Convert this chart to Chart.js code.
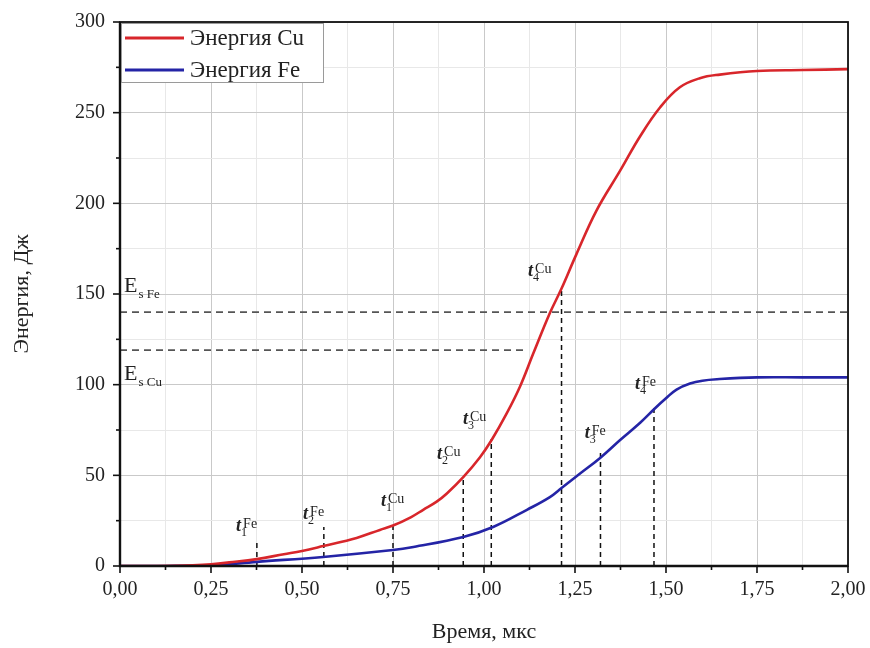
<!DOCTYPE html>
<html>
<head>
<meta charset="utf-8">
<script src="https://cdn.jsdelivr.net/npm/chart.js@4/dist/chart.umd.min.js"></script>
<style>
html,body{margin:0;padding:0;background:#fff;}
#wrap{width:870px;height:648px;}
</style>
</head>
<body>
<div id="wrap"><canvas id="c" width="870" height="648"></canvas></div>
<script>
// ---- data ----
const timeCu   = [0, 0.1, 0.15, 0.2, 0.25, 0.3, 0.376, 0.45, 0.5, 0.558, 0.65, 0.714, 0.75, 0.8, 0.833, 0.87, 0.898, 0.943, 0.989, 1.021, 1.062, 1.099, 1.135, 1.181, 1.213, 1.254, 1.309, 1.374, 1.429, 1.484, 1.538, 1.593, 1.648, 1.75, 1.875, 2.0];
const energyCu = [0, 0, 0.1, 0.4, 1.0, 2.0, 3.8, 6.5, 8.3, 11, 15.5, 19.9, 22.3, 27, 31, 35.5, 40, 49, 60, 69.5, 84, 99, 117, 139.5, 153, 172, 196, 218, 237, 253, 264, 269, 271, 273, 273.5, 274];
const timeFe   = [0, 0.1, 0.15, 0.25, 0.376, 0.558, 0.75, 0.806, 0.943, 1.025, 1.118, 1.181, 1.213, 1.264, 1.319, 1.374, 1.429, 1.47, 1.5, 1.529, 1.566, 1.6, 1.64, 1.75, 1.875, 2.0];
const energyFe = [0, 0, 0.05, 0.3, 2.3, 5, 8.8, 10.5, 16, 21.5, 31, 38, 43, 51, 59.6, 69.5, 79, 87, 92.5, 97.3, 100.6, 102.2, 103, 104, 104, 104];

const seriesNames = ['Энергия Cu', 'Энергия Fe'];
const xTickLabels = ['0,00','0,25','0,50','0,75','1,00','1,25','1,50','1,75','2,00'];
const yTickLabels = ['0','50','100','150','200','250','300'];

// threshold energies
const esFe = 140, esCu = 119;
const esCuEnd = 1.118;

// characteristic time markers
const markerTime   = [0.376, 0.56, 0.75, 0.943, 1.02, 1.213, 1.32, 1.467];
const markerTop    = [13, 21.5, 22.5, 49, 70, 152, 64, 88];
const markerIndex  = ['1','2','1','2','3','4','3','4'];
const markerMetal  = ['Fe','Fe','Cu','Cu','Cu','Cu','Fe','Fe'];
const markerLabelT = [0.319, 0.503, 0.717, 0.871, 0.942, 1.121, 1.277, 1.415];
const markerLabelE = [22.6, 29.2, 36.4, 62.3, 81.6, 163, 73.9, 101];

// ---- build datasets ----
const red = '#d8262b', blue = '#2424a6';
const datasets = [
  {label: seriesNames[0], data: timeCu.map((t,i)=>({x:t,y:energyCu[i]})), borderColor: red, borderWidth: 2.6, pointRadius: 0, tension: 0.4, fill:false, order: 1},
  {label: seriesNames[1], data: timeFe.map((t,i)=>({x:t,y:energyFe[i]})), borderColor: blue, borderWidth: 2.6, pointRadius: 0, tension: 0.4, fill:false, order: 1},
  {label: 'EsFe', data: [{x:0,y:esFe},{x:2,y:esFe}], borderColor:'#555', borderWidth:1.8, borderDash:[7,5], pointRadius:0, order: 2},
  {label: 'EsCu', data: [{x:0,y:esCu},{x:esCuEnd,y:esCu}], borderColor:'#555', borderWidth:1.8, borderDash:[7,5], pointRadius:0, order: 2}
];
markerTime.forEach((t,i)=>{
  datasets.push({label:'m'+i, data:[{x:t,y:0},{x:t,y:markerTop[i]}], borderColor:'#111', borderWidth:1.5, borderDash:[5,4], pointRadius:0, order: 2});
});

const isMult = (v, s) => Math.abs(v/s - Math.round(v/s)) < 1e-6;
const serif = '"Liberation Serif", "Times New Roman", serif';

const decor = {
  id: 'decor',
  afterDraw(chart) {
    const ctx = chart.ctx, xs = chart.scales.x, ys = chart.scales.y, a = chart.chartArea;
    ctx.save();
    // ticks
    ctx.strokeStyle = '#111'; ctx.lineWidth = 1.6;
    xs.ticks.forEach(tk => {
      const px = xs.getPixelForValue(tk.value);
      const len = isMult(tk.value, 0.25) ? 7 : 4;
      ctx.beginPath(); ctx.moveTo(px, a.bottom); ctx.lineTo(px, a.bottom + len); ctx.stroke();
    });
    ys.ticks.forEach(tk => {
      const py = ys.getPixelForValue(tk.value);
      const len = isMult(tk.value, 50) ? 7 : 4;
      ctx.beginPath(); ctx.moveTo(a.left, py); ctx.lineTo(a.left - len, py); ctx.stroke();
    });
    // frame
    ctx.lineWidth = 1.8;
    ctx.strokeRect(a.left, a.top, a.right - a.left, a.bottom - a.top);
    ctx.lineWidth = 2.4;
    ctx.beginPath(); ctx.moveTo(a.left, a.top); ctx.lineTo(a.left, a.bottom); ctx.lineTo(a.right, a.bottom); ctx.stroke();

    // marker labels  t_i^Me
    ctx.fillStyle = '#222';
    ctx.textBaseline = 'alphabetic'; ctx.textAlign = 'left';
    markerTime.forEach((t,i)=>{
      const px = xs.getPixelForValue(markerLabelT[i]);
      const py = ys.getPixelForValue(markerLabelE[i]) + 6;
      ctx.font = 'italic bold 18px ' + serif;
      ctx.fillText('t', px, py);
      const w = ctx.measureText('t').width;
      ctx.font = '12px ' + serif;
      ctx.fillText(markerIndex[i], px + w, py + 5);
      ctx.font = '14px ' + serif;
      ctx.fillText(markerMetal[i], px + w + 2, py - 3);
    });

    // E_s labels
    const drawEs = (txt, e, dy) => {
      const px = a.left + 4;
      const py = ys.getPixelForValue(e) + dy;
      ctx.font = '22px ' + serif;
      ctx.fillText('E', px, py);
      const w = ctx.measureText('E').width;
      ctx.font = '13px ' + serif;
      ctx.fillText(txt, px + w + 1, py + 6);
    };
    drawEs('s Fe', esFe, -20);
    drawEs('s Cu', esCu, 30);

    // legend
    const lx = a.left + 1, ly = a.top + 1, lw = 202, lh = 59;
    ctx.fillStyle = '#fff';
    ctx.fillRect(lx, ly, lw, lh);
    ctx.strokeStyle = '#9a9a9a'; ctx.lineWidth = 1;
    ctx.strokeRect(lx + 0.5, ly + 0.5, lw, lh);
    [red, blue].forEach((c, i) => {
      const yy = ly + 15 + i * 32;
      ctx.strokeStyle = c; ctx.lineWidth = 3;
      ctx.beginPath(); ctx.moveTo(lx + 4, yy); ctx.lineTo(lx + 63, yy); ctx.stroke();
      ctx.fillStyle = '#222';
      ctx.font = '23px ' + serif;
      ctx.textBaseline = 'middle';
      ctx.fillText(seriesNames[i], lx + 69, yy + 1);
    });
    ctx.restore();
  }
};

new Chart(document.getElementById('c'), {
  type: 'line',
  data: { datasets },
  options: {
    responsive: false,
    animation: false,
    layout: { padding: { left: 0, top: 22, right: 22, bottom: 0 } },
    plugins: { legend: { display: false }, tooltip: { enabled: false } },
    scales: {
      x: {
        type: 'linear', min: 0, max: 2,
        afterFit: s => { s.height = 82; s.paddingLeft = 0; s.paddingRight = 0; },
        ticks: {
          stepSize: 0.125, autoSkip: false, maxRotation: 0, padding: 12,
          color: '#222', font: { family: serif, size: 20 },
          callback: v => isMult(v, 0.25) ? xTickLabels[Math.round(v / 0.25)] : ''
        },
        grid: {
          drawTicks: false,
          color: c => (c.tick && isMult(c.tick.value, 0.25)) ? '#c9c9c9' : '#e8e8e8',
          lineWidth: 1
        },
        border: { display: false },
        title: { display: true, text: 'Время, мкс', color: '#222', font: { family: serif, size: 22 }, padding: { top: 0, bottom: 3 } }
      },
      y: {
        type: 'linear', min: 0, max: 300,
        afterFit: s => { s.width = 120; s.paddingTop = 0; s.paddingBottom = 0; },
        ticks: {
          stepSize: 25, autoSkip: false, padding: 15,
          color: '#222', font: { family: serif, size: 20 },
          callback: v => isMult(v, 50) ? yTickLabels[Math.round(v / 50)] : ''
        },
        grid: {
          drawTicks: false,
          color: c => (c.tick && isMult(c.tick.value, 50)) ? '#c9c9c9' : '#e8e8e8',
          lineWidth: 1
        },
        border: { display: false },
        title: { display: true, text: 'Энергия, Дж', color: '#222', font: { family: serif, size: 22 }, padding: { top: 9, bottom: 0 } }
      }
    }
  },
  plugins: [decor]
});
</script>
</body>
</html>
